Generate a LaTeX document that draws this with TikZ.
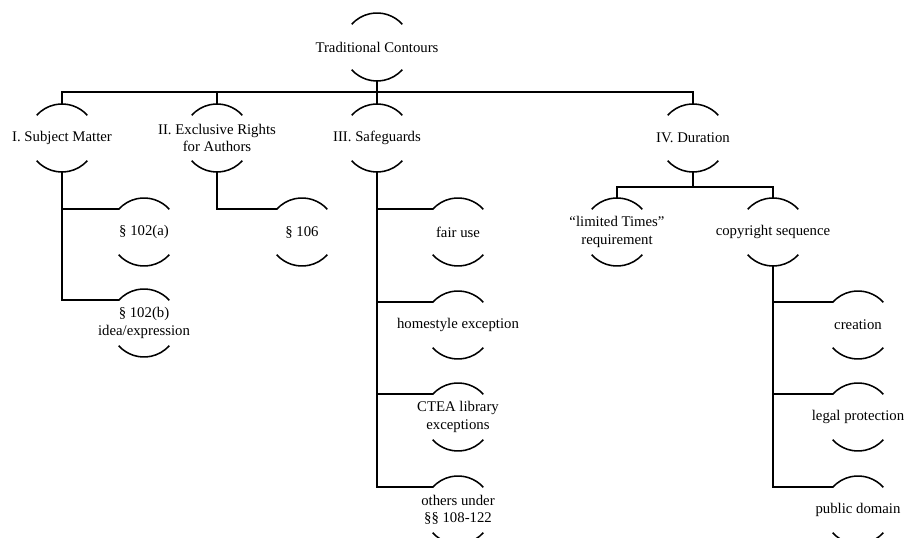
\documentclass[tikz,border=0pt]{standalone}
\usepackage{fontspec}
\setmainfont{Liberation Serif}
\begin{document}
\begin{tikzpicture}[x=0.025cm, y=0.025cm,
  line width=1.1pt,
  ring/.style={circle, minimum size=1.7cm, inner sep=0pt, outer sep=0pt},
  lbl/.style={inner sep=0pt, align=center, font=\fontsize{10.5}{12.5}\selectfont},
  link/.style={line width=1.1pt}]
\useasboundingbox (0,0) rectangle (904,538);

% tree nodes: text sits in the middle of an open ring
\node[ring, label={[lbl]center:Traditional Contours}] (root) at (377,491) {};
\node[ring, label={[lbl]center:I. Subject Matter}] (I) at (62,400) {};
\node[ring, label={[lbl]center:II. Exclusive Rights\\for Authors}] (II) at (217,400) {};
\node[ring, label={[lbl]center:III. Safeguards}] (III) at (377,400) {};
\node[ring, label={[lbl]center:IV. Duration}] (IV) at (693,400) {};

\node[ring, label={[lbl]center:§ 102(a)}] (sa) at (144,306) {};
\node[ring, label={[lbl]center:§ 102(b)\\idea/expression}] (sb) at (144,215) {};
\node[ring, label={[lbl]center:§ 106}] (s106) at (302,306) {};

\node[ring, label={[lbl]center:fair use}] (fair) at (458,306) {};
\node[ring, label={[lbl]center:homestyle exception}] (home) at (458,213) {};
\node[ring, label={[lbl]center:CTEA library\\exceptions}] (ctea) at (458,121) {};
\node[ring, label={[lbl]center:others under\\§§ 108-122}] (others) at (458,28) {};

\node[ring, label={[lbl]center:“limited Times”\\requirement}] (limited) at (617,306) {};
\node[ring, label={[lbl]center:copyright sequence}] (seq) at (773,306) {};

\node[ring, label={[lbl]center:creation}] (creation) at (858,213) {};
\node[ring, label={[lbl]center:legal protection}] (legal) at (858,121) {};
\node[ring, label={[lbl]center:public domain}] (public) at (858,28) {};

% upper and lower arcs of every ring
\foreach \n in {root,I,II,III,IV,sa,sb,s106,fair,home,ctea,others,limited,seq,creation,legal,public}{
  \draw (\n.42) arc[start angle=42, end angle=138, radius=0.85cm];
  \draw (\n.222) arc[start angle=222, end angle=318, radius=0.85cm];
}

% connectors
\coordinate (bus) at (377,446);
\draw[link] (root.south) -- (III.north);
\draw[link] (I.north) |- (bus) -| (IV.north);
\draw[link] (II.north) -- (II.north |- bus);

\draw[link] (I.south) |- (sa.138);
\draw[link] (I.south) |- (sb.138);
\draw[link] (II.south) |- (s106.138);

\draw[link] (III.south) |- (fair.138);
\draw[link] (III.south) |- (home.138);
\draw[link] (III.south) |- (ctea.138);
\draw[link] (III.south) |- (others.138);

\coordinate (ivbus) at (693,351);
\draw[link] (IV.south) -- (ivbus);
\draw[link] (limited.north) |- (ivbus) -| (seq.north);

\draw[link] (seq.south) |- (creation.138);
\draw[link] (seq.south) |- (legal.138);
\draw[link] (seq.south) |- (public.138);
\end{tikzpicture}
\end{document}
